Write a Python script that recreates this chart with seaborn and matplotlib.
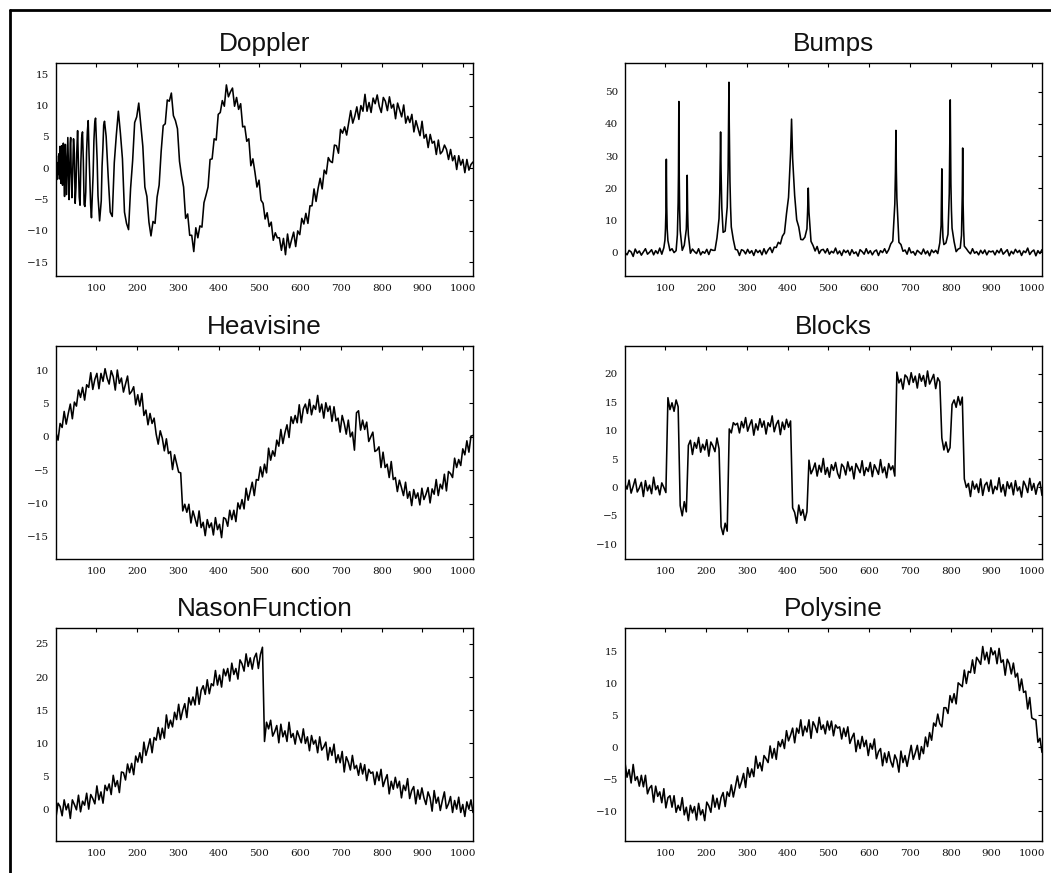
import numpy as np
import pandas as pd
import matplotlib
matplotlib.use("Agg")
import matplotlib.pyplot as plt
import seaborn as sns
from matplotlib.lines import Line2D

# ---------------- data ----------------
titles = ["Doppler", "Bumps", "Heavisine", "Blocks", "NasonFunction", "Polysine"]
x_ticks = [100, 200, 300, 400, 500, 600, 700, 800, 900, 1000]

doppler_y_a = [-0.8, 2.0, -1.8, 0.4, 0.9, -1.0, -0.6, 2.3, -1.7, -1.6,
               3.5, -0.2, -2.4, -0.8, 3.6, -0.1, -2.7, -1.5, 4.0, 1.7,
               -2.0, -4.5, 0.8, 3.8, 1.9, -0.8, -4.2, -1.3, 1.2, 4.9,
               1.9, -1.4, -5.0, -1.8, 0.2, 4.0, 4.9, 0.5, -1.9, -4.7]
doppler_y_b = [-0.5, 4.7, 2.4, -5.6, -3.0, 2.6, 6.0, 0.5, -4.6, -5.9,
               0.9, 4.9, 5.8, 1.3, -5.8, -6.1, -3.8, 2.5, 5.9, 7.6,
               2.4, -2.0, -5.9, -7.9, -4.3, -1.1, 4.4, 7.2, 8.0, 4.7,
               1.2, -4.4, -6.3, -8.4, -6.8, -5.2, 0.3, 3.2, 6.9, 7.5]
doppler_y_c = [5.1, -1.3, -7.0, -7.7, 0.9, 5.3, 9.1, 5.6, 1.5, -7.0,
               -8.8, -9.8, -3.2, 1.2, 7.3, 8.2, 10.4, 6.9, 3.5, -3.0,
               -4.5, -8.6, -10.8, -8.5, -8.8, -4.6, -2.7, 2.7, 6.8, 7.1,
               10.9, 10.7, 12.0, 8.4, 7.6, 6.3, 1.1, -1.2, -3.0, -8.0,
               -7.3, -10.7, -10.7, -13.3, -9.5, -11.1, -9.2, -9.4, -5.5, -4.3,
               -3.0, 1.4, 1.5, 4.7, 4.5, 8.6, 8.9, 10.8, 9.9, 13.3,
               11.4, 12.2, 12.8, 9.9, 11.3, 9.4, 10.3, 6.6, 6.7, 4.3,
               4.7, 0.4, 1.5, -0.6, -3.0, -1.9, -5.1, -5.6, -8.1, -7.1,
               -9.3, -8.6, -11.5, -10.3, -11.1, -11.1, -13.1, -11.2, -13.8, -10.5,
               -12.7, -11.4, -10.2, -12.5, -10.0, -10.6, -8.0, -8.9, -7.2, -8.8,
               -6.0, -6.0, -3.3, -5.3, -3.2, -1.6, -3.3, -0.3, -0.9, 1.7,
               1.1, 0.9, 3.7, 3.6, 2.4, 6.2, 5.6, 6.6, 5.3, 7.2,
               9.2, 7.2, 8.3, 9.8, 7.8, 10.0, 9.1, 11.8, 9.1, 10.5,
               8.9, 11.2, 10.3, 11.7, 9.9, 8.9, 11.3, 10.7, 9.2, 11.4,
               9.6, 10.2, 7.9, 10.4, 9.3, 8.2, 10.1, 7.2, 8.3, 7.3,
               8.6, 5.8, 7.6, 6.4, 5.2, 7.5, 4.8, 5.4, 3.3, 5.4,
               4.0, 4.3, 2.2, 4.5, 2.3, 2.7, 3.7, 3.0, 1.4, 3.0,
               1.2, 2.0, -0.2, 2.0, 0.5, 1.4, -0.7, 1.4, -0.3, 0.6,
               1.0]

bumps_base_y = [-0.1, -0.8, 0.6, 0.1, -1.3, 1.0, -0.3, 0.4, -0.9, 0.1,
                1.1, -0.6, 0.0, 0.8, -0.8, 0.5, -0.4, 1.3, -0.6, 1.4,
                12.3, 3.6, 0.5, 1.1, -0.1, 0.5, 15.4, 6.8, 0.6, 2.2,
                7.2, 5.4, -0.3, 1.0, 0.2, -0.4, 1.1, -0.8, 0.2, -0.3,
                0.9, -0.7, 0.9, 0.6, 0.6, 4.5, 10.5, 25.1, 6.2, 6.6,
                14.1, 40.0, 7.9, 3.9, 0.9, 0.7, -1.0, 0.8, 0.5, -0.5,
                0.9, -0.3, 0.5, -1.0, 0.8, -0.1, 0.6, -0.8, 1.1, -0.5,
                0.7, 1.5, -0.1, 1.6, 1.5, 3.1, 2.6, 5.0, 6.0, 12.0,
                17.1, 30.9, 29.3, 17.7, 10.1, 7.9, 4.0, 3.9, 4.7, 7.3,
                12.5, 3.4, 2.1, 0.4, 1.8, -0.4, 0.7, 0.9, -0.2, 1.1,
                -0.6, 0.3, -0.2, 1.3, -0.5, 0.4, -1.0, 0.7, -0.1, 0.6,
                -0.9, 0.8, -0.4, 0.1, -1.2, 0.8, 0.2, -0.6, 1.1, -0.4,
                0.5, -0.8, 0.3, 0.7, -1.0, 0.5, -0.1, 1.1, -0.3, 0.8,
                2.6, 3.5, 15.1, 16.9, 3.1, 2.4, 0.3, 0.7, -0.6, 1.4,
                -0.2, 0.2, -0.9, 0.6, 0.0, -0.6, 1.0, -0.5, 0.4, -1.1,
                0.7, -0.1, 0.6, -0.4, 2.9, 26.0, 2.4, 2.9, 5.6, 41.5,
                7.5, 3.3, 0.2, 1.0, 1.3, 17.9, 1.9, 1.1, 0.2, -0.5,
                1.1, -0.3, 0.2, -0.8, 0.6, -0.4, 0.7, -0.8, 0.4, 0.1,
                0.4, -0.8, 0.6, -0.2, 1.1, -0.6, 0.1, 0.8, -1.1, 0.3,
                -0.5, 0.9, -0.1, 0.6, -1.0, 0.4, -0.1, 1.3, -0.7, 0.2,
                0.7, -1.1, 0.5, -0.4, 0.8]
bumps_peak_x = [99.0, 100.3, 102.4, 103.4, 104.5,
                129.5, 132.2, 133.1, 134.1, 135.0,
                152.6, 153.6, 154.6, 155.5,
                233.5, 235.5, 238.5,
                254.0, 256.0, 258.5, 260.0,
                409.6, 410.6,
                449.0, 450.6, 451.5,
                664.5, 665.6, 666.7,
                776.5, 779.5, 781.0,
                796.5, 798.9, 800.5, 801.8,
                826.5, 829.4, 830.5, 831.8]
bumps_peak_y = [3.8, 7.3, 29.0, 14.2, 7.3,
                5.5, 24.5, 47.0, 23.0, 13.2,
                13.1, 24.0, 13.1, 8.2,
                18.4, 37.5, 13.8,
                26.0, 53.0, 22.1, 14.1,
                41.5, 36.5,
                12.8, 20.0, 15.7,
                25.2, 38.0, 25.2,
                8.4, 10.6, 4.6,
                18.3, 47.5, 21.3, 13.2,
                5.3, 32.5, 14.9, 7.0]

heavisine_y = [0.6, -0.5, 2.0, 1.4, 3.8, 1.9, 3.5, 4.9, 2.7, 5.2,
               4.6, 7.0, 5.9, 7.4, 5.5, 7.8, 7.4, 9.6, 7.1, 8.6,
               9.5, 7.2, 9.5, 8.3, 10.2, 8.8, 7.9, 9.9, 9.0, 7.0,
               10.0, 8.0, 8.8, 6.7, 7.9, 9.1, 6.4, 6.8, 7.5, 4.8,
               6.3, 4.6, 6.5, 3.2, 4.0, 1.8, 3.5, 2.0, 2.8, 0.4,
               -1.1, 0.9, -0.2, -2.1, -0.3, -2.5, -2.2, -4.9, -2.7, -4.0,
               -5.3, -5.4, -11.1, -10.1, -11.3, -10.1, -12.9, -11.1, -12.2, -13.4,
               -11.1, -13.6, -12.8, -14.8, -12.4, -13.6, -12.9, -14.7, -12.1, -13.9,
               -13.1, -15.1, -12.1, -12.3, -13.4, -11.0, -12.4, -11.0, -12.7, -9.9,
               -10.8, -9.4, -10.8, -7.7, -9.5, -8.2, -6.8, -8.8, -6.4, -6.5,
               -4.5, -6.0, -4.1, -5.4, -1.7, -3.5, -2.1, -2.9, -0.5, -1.4,
               1.1, -1.0, 0.6, 1.8, -0.1, 3.0, 2.0, 3.2, 2.1, 4.8,
               2.1, 4.2, 4.9, 3.5, 5.6, 3.3, 4.7, 4.1, 6.2, 3.7,
               4.9, 2.8, 5.1, 3.8, 4.6, 2.3, 4.5, 2.4, 2.8, 0.7,
               3.2, 2.0, 0.4, 2.5, 0.0, 0.7, -2.0, 3.6, 3.9, 1.0,
               2.5, 1.1, 2.2, -0.7, 0.0, 0.7, -2.2, -2.0, -1.5, -4.6,
               -2.3, -4.6, -4.1, -6.1, -3.7, -6.4, -6.1, -8.2, -6.5, -7.6,
               -8.8, -6.8, -9.2, -8.2, -10.3, -7.9, -9.2, -8.4, -10.2, -7.7,
               -9.4, -8.6, -7.6, -9.9, -7.8, -8.6, -6.4, -8.8, -7.1, -7.8,
               -5.6, -8.1, -5.2, -5.5, -6.1, -3.2, -4.6, -3.4, -4.3, -1.8,
               -2.7, -0.6, -2.3, 0.1, 0.2]

blocks_y = [0.6, -0.3, 1.3, -1.0, 0.2, 1.5, -0.8, -0.1, 0.9, -1.6,
            1.2, -0.6, 0.4, -1.1, 1.8, -0.4, 0.3, -1.3, 0.8, 0.0,
            -0.9, 15.8, 13.7, 14.9, 13.4, 15.4, 14.2, -3.2, -5.0, -2.5,
            -4.3, 7.4, 8.3, 5.8, 7.9, 6.9, 8.8, 6.2, 7.6, 6.6,
            8.4, 5.5, 8.0, 7.3, 6.3, 8.7, 6.8, -6.9, -8.3, -6.3,
            -7.7, 10.3, 9.6, 11.4, 11.0, 11.3, 9.6, 11.6, 10.5, 12.3,
            9.9, 11.0, 11.9, 9.2, 11.2, 10.1, 12.1, 10.6, 11.7, 9.4,
            11.4, 10.7, 12.6, 9.8, 11.1, 11.8, 9.3, 11.5, 10.2, 12.0,
            10.6, 11.7, -3.6, -4.4, -6.3, -3.1, -4.9, -3.9, -5.8, -4.3,
            4.8, 2.4, 3.2, 4.3, 2.0, 3.9, 2.7, 5.1, 2.3, 3.5,
            1.8, 4.0, 3.0, 4.4, 2.5, 1.6, 4.1, 3.6, 2.2, 4.5,
            2.9, 3.7, 1.5, 4.2, 3.4, 2.6, 4.7, 2.1, 3.5, 2.8,
            4.4, 1.9, 4.0, 3.2, 2.3, 4.9, 2.6, 3.6, 1.7, 4.2,
            3.1, 3.8, 2.0, 20.3, 18.4, 19.1, 17.3, 19.8, 19.4, 18.1,
            20.2, 18.5, 19.6, 17.5, 20.0, 18.7, 19.7, 17.8, 20.5, 18.2,
            19.0, 19.9, 17.4, 19.3, 18.6, 8.7, 6.6, 8.0, 6.2, 7.0,
            14.6, 15.4, 14.1, 16.0, 14.5, 15.9, 1.5, 0.0, 0.7, -1.6,
            1.1, -0.3, 0.6, -0.9, 1.5, -1.4, 0.4, 0.9, -0.7, 1.3,
            -1.1, 0.2, -0.4, 1.7, -0.8, 0.5, -1.5, 1.0, -0.2, 0.8,
            -1.3, 1.2, -0.6, 0.1, -1.7, 1.1, 0.3, -0.9, 1.6, -0.5,
            0.7, -1.2, 0.4, 1.0, -1.4]

nason_y = [-1.1, 1.0, 0.5, -0.9, 1.5, 0.0, 0.9, -1.3, 1.5, 0.8,
           0.0, 2.2, -0.3, 1.3, 0.7, 2.5, 0.1, 2.3, 1.7, 0.9,
           3.6, 1.5, 2.7, 1.0, 3.7, 2.9, 3.9, 2.3, 5.2, 3.5,
           4.4, 2.6, 5.7, 5.6, 4.5, 6.9, 5.6, 7.0, 5.3, 8.1,
           7.2, 8.6, 7.1, 10.2, 8.2, 9.4, 10.7, 8.6, 10.9, 10.5,
           12.4, 10.6, 12.3, 10.8, 14.3, 12.3, 13.5, 12.5, 14.7, 13.6,
           15.9, 13.6, 15.0, 16.0, 13.9, 16.9, 15.8, 17.0, 15.8, 18.5,
           15.9, 18.0, 18.7, 17.4, 19.6, 17.5, 19.0, 18.7, 21.0, 18.8,
           20.3, 18.5, 21.2, 20.2, 21.3, 19.4, 22.1, 20.4, 21.3, 19.7,
           22.6, 22.0, 20.9, 23.5, 21.6, 22.9, 21.2, 22.9, 23.6, 21.3,
           23.4, 24.5, 10.3, 13.2, 12.2, 13.5, 11.1, 11.8, 12.7, 10.1,
           12.9, 11.0, 11.9, 10.3, 13.2, 10.9, 11.5, 9.9, 11.9, 11.0,
           10.1, 12.2, 10.0, 11.0, 8.9, 11.2, 9.9, 10.5, 8.6, 11.0,
           9.0, 9.5, 10.2, 7.5, 9.4, 8.2, 9.9, 7.1, 8.3, 7.1,
           8.8, 5.7, 8.0, 7.2, 6.0, 8.2, 6.2, 6.7, 5.2, 7.0,
           5.4, 6.8, 4.4, 6.1, 5.5, 5.7, 3.8, 5.7, 4.4, 6.1,
           3.5, 4.5, 5.3, 2.4, 4.3, 3.1, 4.9, 3.3, 4.3, 1.8,
           3.7, 2.9, 4.7, 1.7, 2.9, 3.5, 0.9, 3.0, 1.6, 3.3,
           1.8, 0.8, 2.7, 1.8, -0.2, 2.9, 1.0, 1.9, -0.1, 1.4,
           2.7, 0.2, 0.9, 2.0, -0.4, 1.4, 0.1, 1.9, -0.4, 0.8,
           -1.0, 1.2, 0.1, 1.5, -0.4]

polysine_y = [-2.4, -4.7, -3.5, -5.6, -2.7, -5.2, -4.6, -6.1, -4.4, -6.2,
              -4.4, -7.3, -6.4, -6.0, -8.6, -6.1, -7.7, -7.0, -8.7, -6.5,
              -9.5, -7.9, -7.6, -9.4, -7.6, -10.2, -9.1, -9.9, -7.9, -10.6,
              -9.4, -11.5, -9.1, -10.3, -9.3, -11.4, -8.8, -10.6, -9.8, -11.5,
              -8.6, -9.2, -10.2, -7.5, -9.4, -8.0, -9.7, -7.9, -7.1, -9.3,
              -7.0, -7.7, -5.9, -7.8, -6.2, -4.5, -6.4, -5.4, -4.1, -6.3,
              -3.2, -4.7, -3.4, -4.6, -1.4, -3.3, -2.4, -3.7, -1.3, -1.8,
              -2.4, 0.2, -1.7, -0.2, -1.9, 0.9, 0.1, 1.2, -0.2, 2.6,
              1.0, 1.9, 3.0, 0.7, 3.0, 2.2, 4.3, 1.8, 3.3, 2.4,
              4.3, 1.4, 4.0, 3.3, 2.3, 4.7, 2.8, 3.5, 2.1, 4.1,
              2.7, 4.1, 1.8, 3.5, 3.0, 3.2, 1.3, 3.0, 1.7, 3.2,
              0.6, 1.5, 2.2, -0.7, 1.1, -0.2, 1.7, 0.1, 1.1, -1.3,
              0.6, -0.3, 1.3, -1.8, -0.7, -0.2, -2.9, -0.9, -2.4, -0.7,
              -2.2, -3.1, -1.2, -2.0, -3.9, -0.6, -2.4, -1.3, -3.0, -1.3,
              0.3, -1.9, -0.9, 0.3, -1.9, 0.1, -1.0, 1.6, 0.1, 2.3,
              1.1, 3.8, 3.3, 5.2, 3.7, 3.2, 6.2, 6.2, 5.3, 8.1,
              7.0, 8.4, 6.8, 10.1, 9.8, 9.5, 12.1, 10.0, 11.9, 11.7,
              13.7, 11.6, 14.1, 13.6, 13.0, 15.8, 13.7, 14.9, 13.1, 15.6,
              14.5, 15.1, 13.1, 15.5, 13.3, 13.7, 11.3, 13.8, 13.1, 11.5,
              13.2, 11.0, 11.6, 8.9, 10.7, 8.6, 8.8, 6.0, 7.8, 4.6,
              4.4, 4.3, 0.8, 1.4, -0.8]

y_limits = {"Doppler": (-17.2, 16.8), "Bumps": (-7.4, 59.0), "Heavisine": (-18.3, 13.6),
            "Blocks": (-12.6, 24.9), "NasonFunction": (-4.7, 27.4), "Polysine": (-14.7, 18.7)}
y_ticks = {"Doppler": [-15, -10, -5, 0, 5, 10, 15], "Bumps": [0, 10, 20, 30, 40, 50],
           "Heavisine": [-15, -10, -5, 0, 5, 10], "Blocks": [-10, -5, 0, 5, 10, 15, 20],
           "NasonFunction": [0, 5, 10, 15, 20, 25], "Polysine": [-10, -5, 0, 5, 10, 15]}


def grid(values):
    return np.linspace(1, 1024, len(values))


frames = {
    "Doppler": pd.DataFrame({
        "x": np.concatenate([np.arange(1, 41), np.arange(42, 121, 2),
                             np.linspace(124, 1024, len(doppler_y_c))]),
        "y": doppler_y_a + doppler_y_b + doppler_y_c}),
    "Bumps": pd.DataFrame({
        "x": np.concatenate([grid(bumps_base_y), bumps_peak_x]),
        "y": bumps_base_y + bumps_peak_y}).sort_values("x"),
    "Heavisine": pd.DataFrame({"x": grid(heavisine_y), "y": heavisine_y}),
    "Blocks": pd.DataFrame({"x": grid(blocks_y), "y": blocks_y}),
    "NasonFunction": pd.DataFrame({"x": grid(nason_y), "y": nason_y}),
    "Polysine": pd.DataFrame({"x": grid(polysine_y), "y": polysine_y}),
}

# ---------------- figure ----------------
sns.set_theme(style="white")
plt.rcParams["font.family"] = ["DejaVu Serif"]
plt.rcParams["axes.unicode_minus"] = True

W, H = 1051, 873
fig = plt.figure(figsize=(W / 100, H / 100), dpi=100)
fig.patch.set_facecolor("white")

col_left = [56, 625]
row_top = [63, 346, 628]
ax_w, ax_h = 417, 213

for i, name in enumerate(titles):
    r, c = divmod(i, 2)
    l = col_left[c] / W
    b = 1 - (row_top[r] + ax_h) / H
    ax = fig.add_axes([l, b, ax_w / W, ax_h / H])
    sns.lineplot(data=frames[name], x="x", y="y", ax=ax, color="black",
                 linewidth=1.15, estimator=None, sort=True)
    ax.set_xlim(1, 1024)
    ax.set_ylim(*y_limits[name])
    ax.set_xticks(x_ticks)
    ax.set_yticks(y_ticks[name])
    ax.set_xlabel("")
    ax.set_ylabel("")
    ax.set_facecolor("white")
    ax.tick_params(axis="both", which="major", direction="in", top=True, right=True,
                   length=3, width=0.8, color="black", labelsize=7.5, labelcolor="#111111")
    ax.tick_params(axis="x", pad=6)
    ax.tick_params(axis="y", pad=5)
    for sp in ax.spines.values():
        sp.set_visible(True)
        sp.set_color("black")
        sp.set_linewidth(1.0)
    ax.set_title(name, fontsize=18.8, family="Liberation Sans", pad=8.3, color="#111111")

# outer frame (top and left edges visible)
x0 = 10 / W
y0 = 1 - 10 / H
fig.add_artist(Line2D([x0, 1.0], [y0, y0], transform=fig.transFigure, color="black", lw=2))
fig.add_artist(Line2D([x0, x0], [0.0, y0], transform=fig.transFigure, color="black", lw=2))

fig.savefig("out.png", dpi=100, facecolor="white")
